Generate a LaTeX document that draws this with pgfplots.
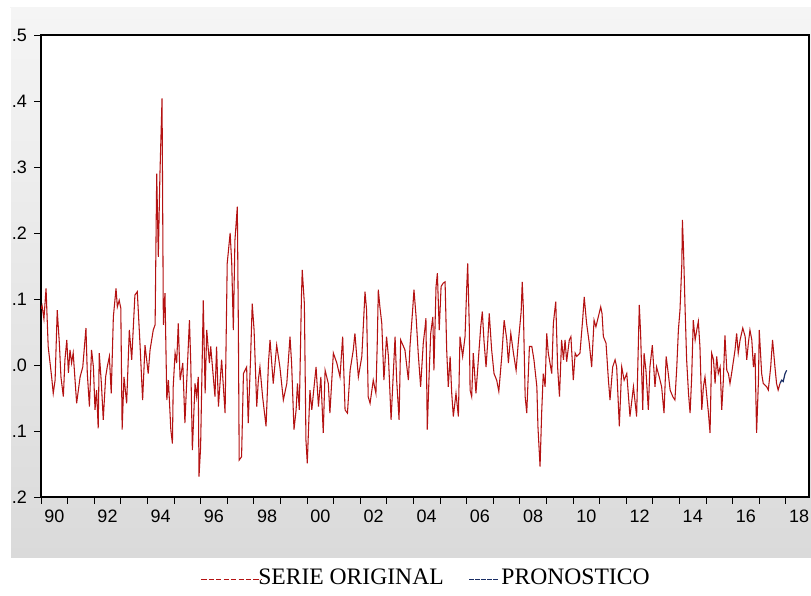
\documentclass[border=0pt]{standalone}
\usepackage{pgfplots}
\pgfplotsset{compat=1.18}
\usepackage{fontspec}
\setmainfont{Liberation Sans}
\newfontfamily\legfont{Liberation Serif}
\definecolor{serie}{RGB}{180,18,18}
\definecolor{pron}{RGB}{25,45,100}
\definecolor{bgtop}{RGB}{245,245,245}
\definecolor{bgbot}{RGB}{218,218,218}
\begin{document}
\begin{tikzpicture}[x=0.75pt,y=0.75pt]
\shade[top color=bgtop,bottom color=bgbot] (10,38) rectangle (811,588);
\begin{axis}[
  at={(30.75pt,74.25pt)}, anchor=south west,
  scale only axis, width=576pt, height=346.5pt,
  xmin=1990, xmax=2018.87, ymin=-0.2, ymax=0.5,
  axis background/.style={fill=white},
  axis line style={black, line width=0.9pt},
  tick align=outside, xtick pos=lower, ytick pos=left,
  major tick length=5pt, minor tick length=2.6pt,
  every tick/.style={black, line width=0.6pt},
  xtick={1990,...,2018}, xticklabels={}, minor x tick num=3,
  extra x ticks={1990.5,1992.5,1994.5,1996.5,1998.5,2000.5,2002.5,2004.5,2006.5,2008.5,2010.5,2012.5,2014.5,2016.5,2018.5},
  extra x tick labels={90,92,94,96,98,00,02,04,06,08,10,12,14,16,18},
  extra x tick style={major tick length=0pt, xticklabel style={yshift=-6.5pt}},
  ytick={-0.2,-0.1,0,0.1,0.2,0.3,0.4,0.5},
  yticklabels={-.2,-.1,.0,.1,.2,.3,.4,.5},
  tick label style={font=\fontsize{13.5}{16}\selectfont},
  yticklabel style={xshift=-2pt},
  legend columns=2,
  legend style={at={(0.502,-0.175)}, anchor=center, draw=none, fill=none,
    font=\legfont\fontsize{17.7}{21}\selectfont,
    /tikz/every even column/.append style={column sep=17pt},
    /tikz/every odd column/.append style={column sep=-4.5pt}},
  legend cell align=left,
]
\addplot[serie, line width=0.8pt,
  legend image code/.code={\draw[serie, line width=0.6pt, dash pattern=on 4pt off 1.6pt] (0pt,-1pt) -- (45pt,-1pt);}]
  coordinates {
(1990.00,0.085)(1990.04,0.090)(1990.11,0.070)(1990.19,0.116)(1990.27,0.028)(1990.40,-0.018)(1990.46,-0.043)(1990.53,-0.023)(1990.61,0.083)(1990.69,0.033)(1990.75,-0.018)(1990.84,-0.048)(1990.90,0.008)(1990.97,0.038)(1991.03,-0.012)(1991.09,0.023)(1991.15,0.003)(1991.21,0.018)(1991.34,-0.058)(1991.47,-0.018)(1991.57,-0.003)(1991.69,0.056)(1991.74,-0.012)(1991.82,-0.063)(1991.90,0.023)(1991.97,-0.003)(1992.03,-0.068)(1992.09,-0.038)(1992.15,-0.096)(1992.19,0.018)(1992.27,-0.028)(1992.34,-0.083)(1992.43,-0.018)(1992.49,-0.003)(1992.57,0.013)(1992.64,-0.043)(1992.72,0.073)(1992.82,0.116)(1992.87,0.088)(1992.94,0.098)(1993.00,0.086)(1993.05,-0.098)(1993.12,-0.018)(1993.22,-0.058)(1993.32,0.053)(1993.41,0.008)(1993.53,0.106)(1993.62,0.111)(1993.72,0.033)(1993.82,-0.053)(1993.91,0.030)(1994.03,-0.013)(1994.10,0.023)(1994.22,0.053)(1994.29,0.061)(1994.32,0.179)(1994.35,0.290)(1994.41,0.164)(1994.47,0.288)(1994.55,0.404)(1994.60,0.061)(1994.66,0.109)(1994.73,-0.053)(1994.79,-0.023)(1994.88,-0.098)(1994.94,-0.119)(1994.97,-0.033)(1995.04,0.018)(1995.10,0.003)(1995.16,0.063)(1995.23,-0.023)(1995.33,0.003)(1995.41,-0.088)(1995.48,-0.023)(1995.58,0.068)(1995.63,0.003)(1995.69,-0.129)(1995.79,-0.028)(1995.85,-0.048)(1995.91,-0.018)(1995.94,-0.169)(1996.00,-0.124)(1996.10,0.098)(1996.17,-0.043)(1996.23,0.053)(1996.33,0.003)(1996.38,0.028)(1996.54,-0.048)(1996.60,0.028)(1996.67,-0.063)(1996.79,0.008)(1996.92,-0.073)(1997.00,0.154)(1997.11,0.200)(1997.17,0.154)(1997.23,0.053)(1997.29,0.189)(1997.38,0.240)(1997.42,0.053)(1997.45,-0.144)(1997.54,-0.139)(1997.61,-0.013)(1997.73,-0.003)(1997.79,-0.088)(1997.88,0.013)(1997.94,0.093)(1998.01,0.053)(1998.11,-0.063)(1998.17,-0.023)(1998.23,-0.003)(1998.33,-0.048)(1998.46,-0.093)(1998.55,0.003)(1998.61,0.038)(1998.73,-0.028)(1998.86,0.030)(1998.98,-0.003)(1999.11,-0.053)(1999.24,-0.028)(1999.36,0.043)(1999.42,0.003)(1999.51,-0.098)(1999.59,-0.068)(1999.64,-0.028)(1999.71,-0.068)(1999.79,0.103)(1999.82,0.144)(1999.90,0.093)(1999.96,-0.114)(2000.01,-0.149)(2000.11,-0.038)(2000.18,-0.068)(2000.24,-0.043)(2000.34,-0.003)(2000.43,-0.063)(2000.52,-0.018)(2000.61,-0.103)(2000.68,-0.008)(2000.80,-0.028)(2000.86,-0.073)(2000.99,0.018)(2001.12,0.003)(2001.24,-0.018)(2001.34,0.043)(2001.43,-0.068)(2001.52,-0.073)(2001.62,-0.008)(2001.74,0.023)(2001.80,0.048)(2001.93,-0.018)(2002.06,0.013)(2002.18,0.111)(2002.24,0.083)(2002.30,-0.048)(2002.37,-0.058)(2002.49,-0.023)(2002.59,-0.043)(2002.64,0.033)(2002.68,0.114)(2002.74,0.088)(2002.81,0.063)(2002.89,-0.023)(2002.99,0.043)(2003.06,0.013)(2003.16,-0.083)(2003.31,0.043)(2003.37,-0.023)(2003.46,-0.083)(2003.52,0.038)(2003.68,0.023)(2003.81,-0.023)(2003.87,0.028)(2003.97,0.083)(2004.02,0.114)(2004.10,0.073)(2004.18,0.018)(2004.27,-0.033)(2004.37,0.033)(2004.44,0.058)(2004.47,0.071)(2004.52,-0.098)(2004.60,-0.003)(2004.65,0.048)(2004.73,0.073)(2004.77,-0.008)(2004.85,0.119)(2004.90,0.139)(2004.97,0.053)(2005.04,0.119)(2005.12,0.124)(2005.19,0.126)(2005.25,0.023)(2005.31,-0.033)(2005.38,0.013)(2005.44,-0.043)(2005.50,-0.078)(2005.60,-0.043)(2005.69,-0.078)(2005.75,0.043)(2005.85,0.013)(2005.94,0.043)(2006.00,0.114)(2006.04,0.154)(2006.10,0.058)(2006.13,-0.038)(2006.19,-0.048)(2006.25,0.018)(2006.35,-0.043)(2006.44,0.008)(2006.53,0.058)(2006.59,0.081)(2006.65,0.038)(2006.73,-0.003)(2006.79,0.033)(2006.85,0.078)(2006.94,0.023)(2007.03,-0.013)(2007.13,-0.023)(2007.21,-0.040)(2007.32,0.013)(2007.41,0.068)(2007.51,0.038)(2007.57,0.003)(2007.66,0.048)(2007.76,0.018)(2007.86,-0.008)(2007.94,0.033)(2008.05,0.081)(2008.09,0.126)(2008.13,0.088)(2008.20,-0.048)(2008.26,-0.073)(2008.36,0.028)(2008.45,0.028)(2008.53,0.008)(2008.64,-0.033)(2008.68,-0.093)(2008.76,-0.154)(2008.82,-0.073)(2008.88,-0.013)(2008.95,-0.033)(2009.01,0.048)(2009.07,0.018)(2009.20,-0.013)(2009.26,0.063)(2009.35,0.096)(2009.42,-0.003)(2009.49,-0.048)(2009.57,0.038)(2009.64,0.008)(2009.70,0.038)(2009.76,0.005)(2009.86,0.038)(2009.92,0.043)(2010.01,-0.023)(2010.08,0.018)(2010.14,0.013)(2010.26,0.018)(2010.36,0.068)(2010.42,0.103)(2010.51,0.063)(2010.61,0.033)(2010.70,-0.003)(2010.79,0.068)(2010.86,0.058)(2010.95,0.073)(2011.04,0.088)(2011.09,0.078)(2011.14,0.043)(2011.24,0.033)(2011.33,-0.023)(2011.39,-0.053)(2011.49,-0.003)(2011.58,0.008)(2011.64,-0.003)(2011.74,-0.093)(2011.83,-0.003)(2011.92,-0.023)(2012.02,-0.013)(2012.14,-0.078)(2012.27,-0.033)(2012.39,-0.078)(2012.49,0.091)(2012.54,0.048)(2012.62,-0.068)(2012.67,0.018)(2012.74,-0.008)(2012.83,-0.068)(2012.89,-0.003)(2012.98,0.030)(2013.08,-0.033)(2013.14,-0.003)(2013.24,-0.018)(2013.33,-0.033)(2013.42,-0.073)(2013.50,0.013)(2013.58,-0.013)(2013.65,-0.038)(2013.75,-0.048)(2013.83,-0.053)(2013.90,-0.003)(2013.96,0.053)(2014.02,0.083)(2014.09,0.154)(2014.11,0.220)(2014.15,0.179)(2014.21,0.088)(2014.27,0.008)(2014.34,-0.043)(2014.40,-0.073)(2014.46,-0.018)(2014.52,0.068)(2014.59,0.038)(2014.65,0.053)(2014.71,0.066)(2014.77,0.028)(2014.84,-0.068)(2014.90,-0.033)(2014.96,-0.018)(2015.03,-0.048)(2015.09,-0.073)(2015.15,-0.103)(2015.21,0.018)(2015.28,0.008)(2015.34,-0.028)(2015.40,0.013)(2015.46,-0.013)(2015.53,-0.003)(2015.59,-0.068)(2015.65,-0.023)(2015.71,0.045)(2015.78,-0.008)(2015.84,-0.013)(2015.90,-0.028)(2015.96,-0.013)(2016.09,0.023)(2016.15,0.048)(2016.21,0.018)(2016.28,0.038)(2016.38,0.056)(2016.47,0.043)(2016.53,0.008)(2016.59,0.033)(2016.65,0.053)(2016.72,0.038)(2016.78,-0.003)(2016.84,0.018)(2016.90,-0.103)(2016.97,-0.023)(2017.00,0.053)(2017.09,-0.013)(2017.15,-0.028)(2017.28,-0.033)(2017.34,-0.038)(2017.43,-0.003)(2017.50,0.038)(2017.59,-0.003)(2017.65,-0.028)(2017.71,-0.038)(2017.78,-0.028)
  };
\addlegendentry{SERIE ORIGINAL}
\addplot[pron, line width=0.9pt,
  legend image code/.code={\draw[pron, line width=0.6pt, dash pattern=on 3.5pt off 1pt] (0pt,-1pt) -- (22pt,-1pt); \path (26pt,-1pt);}]
  coordinates {(2017.78,-0.028)(2017.84,-0.023)(2017.90,-0.025)(2017.97,-0.013)(2018.03,-0.008)};
\addlegendentry{PRONOSTICO}
\end{axis}
% the reference is a screenshot cropped at its left edge: a white margin hides the minus signs
\fill[white] (0,38) rectangle (10.5,588);
\pgfresetboundingbox
\useasboundingbox (0,0) rectangle (811,596);
\end{tikzpicture}
\end{document}
